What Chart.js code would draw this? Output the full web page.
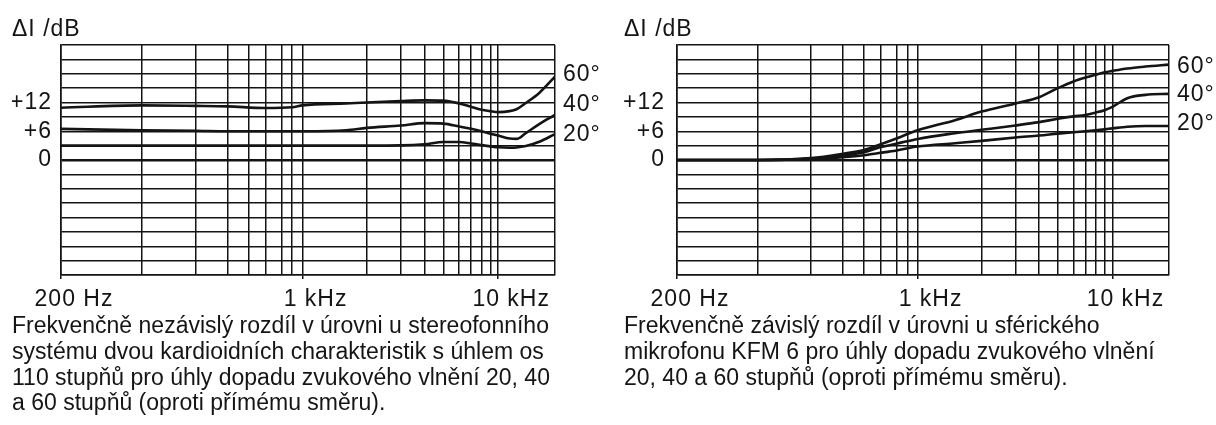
<!DOCTYPE html>
<html>
<head>
<meta charset="utf-8">
<script src="https://cdn.jsdelivr.net/npm/chart.js@4.4.1/dist/chart.umd.min.js"></script>
<style>
  html, body { margin: 0; padding: 0; background: #fff; }
  body { width: 1216px; height: 425px; position: relative; overflow: hidden;
         font-family: "Liberation Sans", Arial, Helvetica, sans-serif; color: #151515; }
  canvas { position: absolute; top: 0; }
  #left { left: 0; }
  #right { left: 608px; }
  .caption { position: absolute; top: 313px; font-size: 23px; line-height: 25.8px;
             white-space: nowrap; }
</style>
</head>
<body>
<canvas id="left" width="608" height="320"></canvas>
<canvas id="right" width="608" height="320"></canvas>
<div class="caption" style="left:12px">Frekvenčně nezávislý rozdíl v úrovni u stereofonního<br>systému dvou kardioidních charakteristik s úhlem os<br>110 stupňů pro úhly dopadu zvukového vlnění 20, 40<br>a 60 stupňů (oproti přímému směru).</div>
<div class="caption" style="left:624px">Frekvenčně závislý rozdíl v úrovni u sférického<br>mikrofonu KFM 6 pro úhly dopadu zvukového vlnění<br>20, 40 a 60 stupňů (oproti přímému směru).</div>
<script>
// frequency grid lines (Hz) and the labelled ones
var gridFreqs = [200, 300, 400, 500, 600, 700, 800, 900, 1000, 2000, 3000, 4000, 5000, 6000, 7000, 8000, 9000, 10000, 20000]
var freqLabels = { 200: '200 Hz', 1000: '1 kHz', 10000: '10 kHz' }
var dbLabels = { 12: '+12', 6: '+6', 0: '0' }
var curveNames = ['60°', '40°', '20°']

// left: stereo pair of cardioids, 110° between axes
var leftFreqs = [200, 300, 400, 500, 700, 900, 1000, 1600, 2000, 3000, 4000, 5000, 6000, 7000, 8000, 9000, 10000, 11500, 12500, 14000, 16500, 20000]
var left60 = [10.9, 11.4, 11.3, 11.2, 10.85, 11.0, 11.4, 11.8, 12.0, 12.3, 12.45, 12.4, 11.8, 11.1, 10.5, 10.2, 10.0, 10.2, 10.6, 11.9, 14.0, 17.4]
var left40 = [6.5, 6.2, 6.1, 6.0, 6.0, 6.0, 6.0, 6.2, 6.7, 7.2, 7.7, 7.6, 7.0, 6.5, 6.0, 5.5, 5.1, 4.5, 4.4, 5.6, 7.5, 9.4]
var left20 = [3.0, 3.0, 3.0, 3.0, 3.0, 3.0, 3.0, 3.0, 3.0, 3.05, 3.3, 3.75, 3.75, 3.45, 3.1, 2.85, 2.65, 2.55, 2.6, 2.9, 3.8, 5.4]
var leftNameDb = [17.9, 11.6, 5.3]

// right: spherical microphone KFM 6
var rightFreqs = [200, 300, 400, 500, 600, 700, 800, 1000, 1500, 2000, 3000, 4000, 5000, 6000, 7000, 8000, 9000, 10000, 12000, 15000, 20000]
var right60 = [0, 0, 0.4, 1.3, 2.1, 3.3, 4.5, 6.2, 8.3, 10.1, 11.8, 13.1, 15.0, 16.4, 17.2, 17.8, 18.3, 18.6, 19.1, 19.5, 19.9]
var right40 = [0, 0, 0.3, 0.9, 1.6, 2.7, 3.4, 4.4, 5.6, 6.3, 7.2, 7.9, 8.6, 9.1, 9.4, 9.9, 10.4, 11.1, 12.9, 13.6, 13.8]
var right20 = [0, 0, 0.2, 0.6, 1.0, 1.5, 2.0, 2.8, 3.5, 4.0, 4.7, 5.1, 5.5, 5.8, 6.0, 6.2, 6.4, 6.6, 6.95, 7.1, 7.1]
var rightNameDb = [19.5, 13.6, 7.5]

var ink = '#141414'
var family = '"Liberation Sans", Arial, Helvetica, sans-serif'

// the printed frequency axis is not a true log scale,
// this is where each grid line sits as a fraction of the width
var gridWarp = [0, .164, .272, .337, .380, .414, .446, .468, .489, .619, .688, .736, .774, .806, .830, .851, .869, .885, 1]

function freqToDecimal(f) {
  if (f <= gridFreqs[0]) return 0
  for (var i = 0; i < gridFreqs.length - 1; i++) {
    if (f <= gridFreqs[i + 1]) {
      var t = Math.log(f / gridFreqs[i]) / Math.log(gridFreqs[i + 1] / gridFreqs[i])
      return gridWarp[i] + t * (gridWarp[i + 1] - gridWarp[i])
    }
  }
  return 1
}

function decimalToFreq(d) {
  for (var i = 0; i < gridWarp.length - 1; i++) {
    if (d <= gridWarp[i + 1]) {
      var t = (d - gridWarp[i]) / (gridWarp[i + 1] - gridWarp[i])
      return gridFreqs[i] * Math.pow(gridFreqs[i + 1] / gridFreqs[i], t)
    }
  }
  return gridFreqs[gridFreqs.length - 1]
}

class FreqScale extends Chart.LinearScale {
  determineDataLimits() {
    this.min = this.options.min
    this.max = this.options.max
  }
  buildTicks() {
    return gridFreqs.map(function(v) { return { value: v } })
  }
  getPixelForValue(value) {
    return this.getPixelForDecimal(freqToDecimal(value))
  }
  getValueForPixel(pixel) {
    return decimalToFreq(this.getDecimalForPixel(pixel))
  }
}
FreqScale.id = 'freq'
FreqScale.defaults = {}
Chart.register(FreqScale)

// text in the print is a bit wide
var wideText = {
  id: 'wideText',
  beforeUpdate: function(chart) { chart.ctx.letterSpacing = '1px' },
  beforeDraw: function(chart) { chart.ctx.letterSpacing = '1px' }
}

function makeChart(id, freqs, series, nameDb, box) {
  var font = { family: family, size: 23 }
  var datasets = series.map(function(vals, i) {
    return {
      label: curveNames[i],
      data: freqs.map(function(f, k) { return { x: f, y: vals[k] } }),
      borderColor: ink,
      borderWidth: 2.6,
      pointRadius: 0,
      cubicInterpolationMode: 'monotone',
      fill: false
    }
  })

  return new Chart(document.getElementById(id), {
    type: 'line',
    data: { datasets: datasets },
    plugins: [wideText],
    options: {
      responsive: false,
      animation: false,
      layout: { padding: { left: box.padLeft, right: 0, top: 0, bottom: 0 } },
      plugins: {
        legend: { display: false },
        tooltip: { enabled: false },
        title: {
          display: true,
          text: 'ΔI /dB',
          align: 'start',
          color: ink,
          font: { family: family, size: 23, weight: 'normal' },
          padding: { top: 16, bottom: 1.4 }
        }
      },
      scales: {
        x: {
          type: 'freq',
          min: 200,
          max: 20000,
          afterFit: function(s) { s.height = 45 },
          grid: {
            color: ink,
            lineWidth: 1.5,
            drawTicks: true,
            tickLength: 4,
            tickColor: function(c) { return freqLabels[c.tick.value] ? ink : 'rgba(0,0,0,0)' }
          },
          border: { color: ink, width: 1.6 },
          ticks: {
            autoSkip: false,
            maxRotation: 0,
            labelOffset: 13,
            padding: 7,
            color: ink,
            font: font,
            callback: function(v) { return freqLabels[v] || '' }
          }
        },
        y: {
          position: 'left',
          min: -24,
          max: 24,
          afterFit: function(s) { s.width = box.leftWidth },
          grid: {
            color: ink,
            drawTicks: false,
            lineWidth: function(c) { return c.tick.value === 0 ? 2.5 : 1.5 }
          },
          border: { color: ink, width: 1.6 },
          ticks: {
            stepSize: 3,
            autoSkip: false,
            padding: box.leftPad,
            color: ink,
            font: font,
            callback: function(v) { return dbLabels[v] !== undefined ? dbLabels[v] : '' }
          }
        },
        yr: {
          position: 'right',
          min: -24,
          max: 24,
          afterFit: function(s) { s.width = box.rightWidth },
          afterBuildTicks: function(s) {
            s.ticks = nameDb.map(function(v) { return { value: v } })
          },
          grid: { display: false, drawTicks: false },
          border: { display: false },
          ticks: {
            autoSkip: false,
            padding: 8,
            color: ink,
            font: font,
            callback: function(v, i) { return curveNames[i] }
          }
        }
      }
    }
  })
}

makeChart('left', leftFreqs, [left60, left40, left20], leftNameDb,
  { padLeft: 12, leftWidth: 49, leftPad: 9, rightWidth: 53 })
makeChart('right', rightFreqs, [right60, right40, right20], rightNameDb,
  { padLeft: 16, leftWidth: 53, leftPad: 12, rightWidth: 47 })
</script>
</body>
</html>
